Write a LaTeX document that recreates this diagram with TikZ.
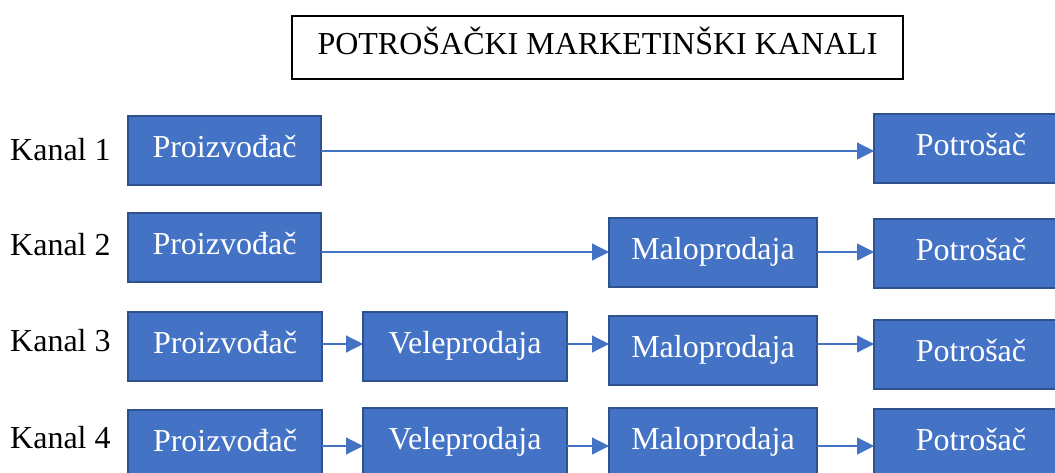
\documentclass[tikz,border=0pt]{standalone}
\usepackage{fontspec}
\setmainfont{Liberation Serif}
\usetikzlibrary{arrows.meta}
\definecolor{boxfill}{HTML}{4472C4}
\definecolor{boxedge}{HTML}{2F528F}
\definecolor{arrowcol}{HTML}{4472C4}
\tikzset{
  blk/.style={rectangle, fill=boxfill, draw=boxedge, line width=1.8pt, inner sep=0pt, outer sep=0pt,
    text=white, font=\fontsize{32}{36}\selectfont, text height=22.4pt, text depth=8pt, minimum height=69pt},
  lbl/.style={anchor=base west, inner sep=0pt, font=\fontsize{32}{36}\selectfont, text=black},
  titlebox/.style={rectangle, draw=black, line width=1.6pt, fill=white, inner sep=0pt,
    font=\fontsize{32}{36}\selectfont, text height=22.4pt, text depth=8pt, minimum width=611pt, minimum height=63pt},
  arr/.style={draw=arrowcol, line width=1.2pt, -{Triangle[length=17pt,width=17pt]}}
}
\begin{document}
\begin{tikzpicture}[x=1pt,y=-1pt]
\clip (0,0) rectangle (1055,472);
\fill[white] (0,0) rectangle (1055,472);
\node[titlebox] (title) at (597.5,47.5) {POTROŠAČKI MARKETINŠKI KANALI};
% labels
\node[lbl] (k1) at (10,160) {Kanal 1};
\node[lbl] (k2) at (10,255) {Kanal 2};
\node[lbl] (k3) at (10,351) {Kanal 3};
\node[lbl] (k4) at (10,448) {Kanal 4};
% row 1
\node[blk, minimum width=193pt] (P1) at (224.5,150.5) {Proizvođač};
\node[blk, minimum width=194pt] (C1) at (971,148.5) {Potrošač};
% row 2
\node[blk, minimum width=193pt] (P2) at (224.5,247.5) {Proizvođač};
\node[blk, minimum width=208pt] (M2) at (713,252.5) {Maloprodaja};
\node[blk, minimum width=194pt] (C2) at (971,253.5) {Potrošač};
% row 3
\node[blk, minimum width=194pt] (P3) at (225,346.5) {Proizvođač};
\node[blk, minimum width=204pt] (V3) at (465,346.5) {Veleprodaja};
\node[blk, minimum width=208pt] (M3) at (713,350.5) {Maloprodaja};
\node[blk, minimum width=194pt] (C3) at (971,354.5) {Potrošač};
% row 4
\node[blk, minimum width=194pt] (P4) at (225,444.5) {Proizvođač};
\node[blk, minimum width=204pt] (V4) at (465,442.5) {Veleprodaja};
\node[blk, minimum width=208pt] (M4) at (713,442.5) {Maloprodaja};
\node[blk, minimum width=194pt] (C4) at (971,443.5) {Potrošač};
% arrow levels
\coordinate (r1) at (0,151);
\coordinate (r2) at (0,252);
\coordinate (r3) at (0,344);
\coordinate (r4) at (0,446);
% connectors
\draw[arr] (P1.east |- r1) -- (C1.west |- r1);
\draw[arr] (P2.east |- r2) -- (M2.west |- r2);
\draw[arr] (M2.east |- r2) -- (C2.west |- r2);
\draw[arr] (P3.east |- r3) -- (V3.west |- r3);
\draw[arr] (V3.east |- r3) -- (M3.west |- r3);
\draw[arr] (M3.east |- r3) -- (C3.west |- r3);
\draw[arr] (P4.east |- r4) -- (V4.west |- r4);
\draw[arr] (V4.east |- r4) -- (M4.west |- r4);
\draw[arr] (M4.east |- r4) -- (C4.west |- r4);
\end{tikzpicture}
\end{document}
